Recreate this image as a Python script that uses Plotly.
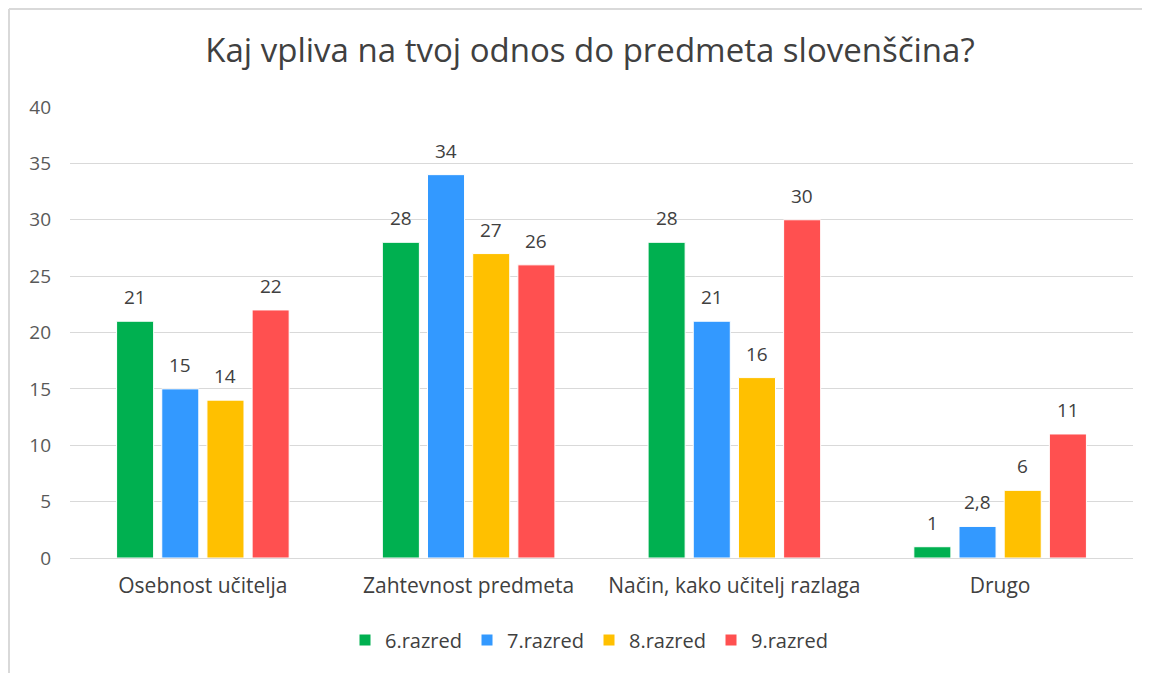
import plotly.graph_objects as go

categories = ["Osebnost učitelja", "Zahtevnost predmeta", "Način, kako učitelj razlaga", "Drugo"]
series_names = ["6.razred", "7.razred", "8.razred", "9.razred"]
r6 = [21, 28, 28, 1]
r7 = [15, 34, 21, 2.8]
r8 = [14, 27, 16, 6]
r9 = [22, 26, 30, 11]
colors = ["#00B050", "#3399FF", "#FFC000", "#FF5050"]
y_ticks = [0, 5, 10, 15, 20, 25, 30, 35, 40]

FONT = "Open Sans, Carlito, Calibri, sans-serif"

W, H = 1142, 665
L, T = 62, 99
PW, PH = 1063, 451
BARGAP = 0.32

fig = go.Figure()
all_series = [r6, r7, r8, r9]
for name, vals, col in zip(series_names, all_series, colors):
    fig.add_trace(go.Bar(
        name=name, x=categories, y=vals,
        marker=dict(color=col, line=dict(color="white", width=1)),
        cliponaxis=False,
    ))

# value labels above bars
slot = PW / len(categories) * (1 - BARGAP) / len(series_names)
annotations = []
for k, vals in enumerate(all_series):
    for cat, v in zip(categories, vals):
        annotations.append(dict(
            x=cat, y=v, xref="x", yref="y",
            text=f"{v}".replace(".", ","), showarrow=False,
            xshift=(k - 1.5) * slot, yshift=24, yanchor="middle",
            font=dict(size=19, color="#404040", family=FONT),
        ))

fig.update_layout(
    width=W, height=H,
    separators=", ",
    paper_bgcolor="white", plot_bgcolor="white",
    margin=dict(l=L, r=W - L - PW, t=T, b=H - T - PH),
    barmode="group", bargap=BARGAP, bargroupgap=0.18,
    font=dict(family=FONT, color="#595959", size=19),
    title=dict(text="Kaj vpliva na tvoj odnos do predmeta slovenščina?",
               x=(590 - 8 - L) / PW, xref="paper", xanchor="center", y=1 - 42 / H, yanchor="middle",
               font=dict(size=33, color="#404040", family=FONT)),
    showlegend=True,
    legend=dict(orientation="h", x=(589 - 8 - L) / PW, xanchor="center", y=(T + PH - 632) / PH, yanchor="middle",
                font=dict(size=20, color="#404040", family=FONT),
                traceorder="normal"),
    annotations=annotations,
    shapes=[
        dict(type="line", xref="paper", yref="paper",
             x0=(1 - L) / PW, x1=1.2, y0=(T + PH - 1) / PH, y1=(T + PH - 1) / PH,
             line=dict(color="#D9D9D9", width=2), layer="below"),
        dict(type="line", xref="paper", yref="paper",
             x0=(1 - L) / PW, x1=(1 - L) / PW, y0=-0.6, y1=(T + PH - 1) / PH,
             line=dict(color="#D9D9D9", width=2), layer="below"),
    ],
)
fig.update_yaxes(range=[0, 40], tickvals=y_ticks, showgrid=True, gridcolor="#D9D9D9",
                 gridwidth=1, zeroline=False, showline=False,
                 ticklabelstandoff=18, tickfont=dict(size=19, color="#595959"))
fig.update_xaxes(showline=True, linecolor="#D9D9D9", linewidth=1, ticks="",
                 ticklabelstandoff=9, tickfont=dict(size=21, color="#404040"))

fig.write_html("out.html")
